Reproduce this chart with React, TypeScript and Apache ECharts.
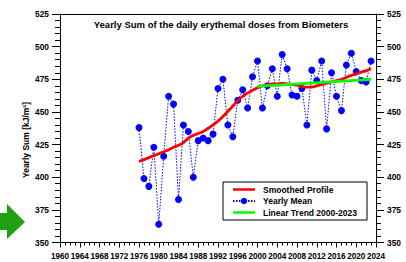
import React, { useEffect, useRef } from "react";
import * as echarts from "echarts";

const years: number[] = [
  1976, 1977, 1978, 1979, 1980, 1981, 1982, 1983, 1984, 1985, 1986, 1987,
  1988, 1989, 1990, 1991, 1992, 1993, 1994, 1995, 1996, 1997, 1998, 1999,
  2000, 2001, 2002, 2003, 2004, 2005, 2006, 2007, 2008, 2009, 2010, 2011,
  2012, 2013, 2014, 2015, 2016, 2017, 2018, 2019, 2020, 2021, 2022, 2023,
];

const yearlyMean: number[] = [
  438, 399, 393, 423, 364, 416, 462, 456, 383, 440, 435, 400,
  428, 430, 428, 433, 468, 475, 440, 431, 459, 467, 453, 477,
  489, 453, 470, 483, 462, 494, 483, 463, 462, 468, 440, 482,
  474, 489, 437, 480, 462, 451, 486, 495, 481, 474, 473, 489,
];

const smoothedProfile: number[] = [
  412, 413.5, 415, 416.5, 418, 419.5, 421, 423, 424.5, 426.5, 430, 432,
  433.5, 435, 437.5, 440, 443, 446.5, 450.5, 454.5, 458.5, 462, 464.5, 466.5,
  468.5, 470, 471, 471.5, 471.5, 472, 471.5, 471, 470.5, 469.5, 469, 469,
  470, 471, 472, 473, 474, 475, 476.5, 478, 479, 480.5, 481.5, 483,
];

const trendYears: number[] = [2000, 2023];
const trendValues: number[] = [469.5, 475];

const FONT = "Liberation Sans, Arial, sans-serif";
const LINE_ICON = "path://M0,0 L44,0 L44,5 L0,5 Z";

export default function App() {
  const ref = useRef<HTMLDivElement>(null);

  useEffect(() => {
    if (!ref.current) return;
    const chart = echarts.init(ref.current, undefined, { renderer: "svg" });

    const yAxisCommon = {
      type: "value" as const,
      min: 350,
      max: 525,
      interval: 25,
      axisLine: { show: true, lineStyle: { color: "#000", width: 1 } },
      axisTick: { show: true, inside: false, length: 8, lineStyle: { color: "#000" } },
      minorTick: { show: true, splitNumber: 5, length: 5, lineStyle: { color: "#000" } },
      splitLine: { show: false },
      axisLabel: {
        color: "#000",
        fontFamily: FONT,
        fontWeight: "bold" as const,
        fontSize: 8.4,
        margin: 11,
      },
    };

    chart.setOption({
      animation: false,
      backgroundColor: "#fff",
      grid: { left: 60, right: 30, top: 14, bottom: 19.5, containLabel: false },
      xAxis: [
        {
          type: "value",
          min: 1960,
          max: 2024,
          interval: 4,
          axisLine: { show: true, onZero: false, lineStyle: { color: "#000", width: 1 } },
          axisTick: { show: true, inside: false, length: 5, lineStyle: { color: "#000" } },
          minorTick: { show: true, splitNumber: 4, length: 3, lineStyle: { color: "#000" } },
          splitLine: { show: false },
          axisLabel: {
            color: "#000",
            fontFamily: FONT,
            fontWeight: "bold",
            fontSize: 8.2,
            margin: 10,
            formatter: (v: number) => String(v),
          },
        },
        {
          type: "value",
          position: "top",
          min: 1960,
          max: 2024,
          axisLine: { show: true, onZero: false, lineStyle: { color: "#000", width: 1.2 } },
          axisTick: { show: false },
          axisLabel: { show: false },
          splitLine: { show: false },
        },
      ],
      yAxis: [
        { ...yAxisCommon, position: "left" },
        { ...yAxisCommon, position: "right" },
      ],
      legend: {
        data: [
          { name: "Smoothed Profile", icon: LINE_ICON },
          { name: "Yearly Mean" },
          { name: "Linear Trend 2000-2023", icon: LINE_ICON },
        ],
        orient: "vertical",
        left: 223,
        top: 182,
        padding: [3, 10, 3, 9],
        itemWidth: 22,
        itemHeight: 8,
        itemGap: 2.5,
        borderColor: "#000",
        borderWidth: 1,
        backgroundColor: "#fff",
        textStyle: {
          color: "#000",
          fontFamily: FONT,
          fontWeight: "bold",
          fontSize: 8.5,
          padding: [0, 0, 0, 3],
        },
      },
      graphic: [
        {
          type: "text",
          x: 221,
          y: 24,
          style: {
            text: "Yearly Sum of the daily erythemal doses from Biometers",
            fill: "#000",
            font: `bold 9.5px ${FONT}`,
            align: "center",
            verticalAlign: "middle",
          },
        },
        {
          type: "text",
          x: 26,
          y: 140,
          rotation: Math.PI / 2,
          style: {
            text: "Yearly Sum [kJ/m²]",
            fill: "#000",
            font: `bold 8.5px ${FONT}`,
            align: "center",
            verticalAlign: "middle",
          },
        },
        {
          type: "polygon",
          shape: {
            points: [
              [0, 213],
              [7, 213],
              [7, 204],
              [25, 222],
              [7, 239],
              [7, 230],
              [0, 230],
            ],
          },
          style: { fill: "#20a010" },
        },
      ],
      series: [
        {
          name: "Yearly Mean",
          type: "line",
          xAxisIndex: 0,
          yAxisIndex: 0,
          data: years.map((y, i) => [y, yearlyMean[i]]),
          symbol: "circle",
          symbolSize: 7,
          itemStyle: { color: "#0000ff" },
          lineStyle: { color: "#0000ff", width: 1, type: [1.5, 1.5] },
          z: 2,
        },
        {
          name: "Smoothed Profile",
          type: "line",
          xAxisIndex: 0,
          yAxisIndex: 0,
          data: years.map((y, i) => [y, smoothedProfile[i]]),
          smooth: true,
          showSymbol: false,
          symbol: "none",
          itemStyle: { color: "#ff0000" },
          lineStyle: { color: "#ff0000", width: 2.8 },
          z: 3,
        },
        {
          name: "Linear Trend 2000-2023",
          type: "line",
          xAxisIndex: 0,
          yAxisIndex: 0,
          data: trendYears.map((y, i) => [y, trendValues[i]]),
          showSymbol: false,
          symbol: "none",
          itemStyle: { color: "#00ff00" },
          lineStyle: { color: "#00ff00", width: 2.8 },
          z: 4,
        },
      ],
    });

    return () => chart.dispose();
  }, []);

  return (
    <div
      ref={ref}
      style={{ position: "fixed", left: 0, top: 0, width: 406, height: 262 }}
    />
  );
}
